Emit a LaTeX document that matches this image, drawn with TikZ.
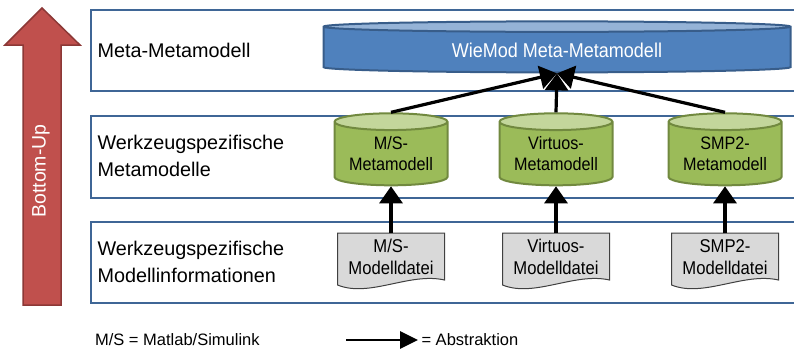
\documentclass[tikz,border=0pt]{standalone}
\usepackage{fontspec}
\setmainfont{Liberation Sans}
\newfontfamily\narrowsans[FakeStretch=0.9]{Liberation Sans}
\usetikzlibrary{arrows.meta}
\usetikzlibrary{shapes.geometric}

\definecolor{layerline}{HTML}{3F6696}
\definecolor{metafill}{HTML}{4F81BD}
\definecolor{metatop}{HTML}{95B3D7}
\definecolor{metaline}{HTML}{385D8A}
\definecolor{toolfill}{HTML}{9BBB59}
\definecolor{tooltop}{HTML}{C3D69B}
\definecolor{toolline}{HTML}{71893F}
\definecolor{filefill}{HTML}{D9D9D9}
\definecolor{fileline}{HTML}{404040}
\definecolor{upfill}{HTML}{C0504D}
\definecolor{upline}{HTML}{8C3836}

\tikzset{
	layer/.style={draw=layerline,line width=2pt,anchor=north west,inner sep=0pt},
	layertext/.style={anchor=west,align=left,font=\fontsize{19.8}{27}\selectfont},
	dbcyl/.style={cylinder,shape border rotate=90,line width=2pt,cylinder uses custom fill,inner sep=0pt,align=center,font=\narrowsans\fontsize{18}{21}\selectfont},
	modelfile/.style={minimum width=107pt,minimum height=47pt,inner sep=0pt,align=center,font=\narrowsans\fontsize{18.5}{22}\selectfont},
	abstraction/.style={line width=3.2pt,-{Triangle[length=17pt,width=23pt]}},
	keytext/.style={anchor=west,font=\fontsize{16.5}{18}\selectfont}
}

\begin{document}
\begin{tikzpicture}[x=1pt,y=-1pt]
	\useasboundingbox (0,0) rectangle (794,348);
	% bottom-up arrow
	\draw[fill=upfill,draw=upline,line width=1.5pt] (23,305) -- (23,45) -- (5,45) -- (42,8) -- (80,45) -- (61,45) -- (61,305) -- cycle;
	\draw (41,171) node (bu) [rotate=90,text=white,font=\fontsize{19.5}{22}\selectfont] {Bottom-Up};
	% layers
	\draw (90,9) node (l1) [layer,minimum width=712pt,minimum height=81pt] {};
	\draw (90,115) node (l2) [layer,minimum width=712pt,minimum height=82pt] {};
	\draw (90,221) node (l3) [layer,minimum width=712pt,minimum height=81pt] {};
	\draw (94,50) node (t1) [layertext] {Meta-Metamodell};
	\draw (94,156) node (t2) [layertext] {Werkzeugspezifische\\Metamodelle};
	\draw (94,262) node (t3) [layertext] {Werkzeugspezifische\\Modellinformationen};
	% meta-metamodel
	\draw (557,50) node (meta) [dbcyl,draw=metaline,cylinder body fill=metafill,cylinder end fill=metatop,text=white,minimum width=467pt,minimum height=51pt,aspect=0.05,font=\narrowsans\fontsize{20}{22}\selectfont] {WieMod Meta-Metamodell};
	% tool-specific models
	\foreach \n/\x/\t in {ms/391/{M/S},vi/556/Virtuos,smp/725/SMP2} {
		\draw (\x,154) node (\n cyl) [dbcyl,draw=toolline,cylinder body fill=toolfill,cylinder end fill=tooltop,minimum width=113pt,minimum height=72pt,aspect=0.2] {\t-\\Metamodell};
		\draw[fill=filefill,draw=fileline,line width=1pt] (\x-53.5,233) -- (\x+53.5,233) -- (\x+53.5,280) .. controls (\x+18.5,272) and (\x-21.5,298) .. (\x-53.5,285) -- cycle;
		\draw (\x,257) node (\n file) [modelfile] {\t-\\Modelldatei};
		\draw[abstraction] (\n file) -- (\n cyl);
		\draw[abstraction] (\n cyl.north) -- (meta.south);
	};
	% key
	\draw (91.5,340) node (key) [keytext] {M/S = Matlab/Simulink};
	\coordinate (arrstart) at (346,340);
	\draw (418,340) node (abstr) [keytext] {= Abstraktion};
	\draw[line width=2.8pt,-{Triangle[length=18pt,width=17pt]}] (arrstart) -- (abstr.west);
\end{tikzpicture}
\end{document}
